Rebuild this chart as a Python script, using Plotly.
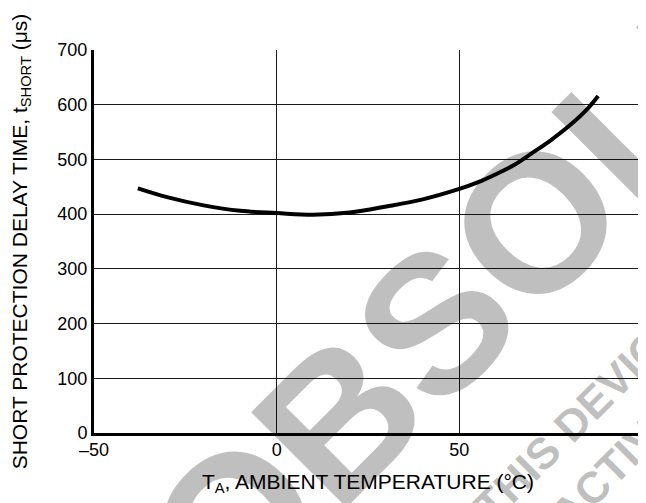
import plotly.graph_objects as go

# ---- data ----
temperature_c = [-38, -30, -20, -10, 0, 10, 20, 30, 40, 50, 55, 60, 65, 70, 75, 80, 85, 88]
delay_us = [447, 431, 416, 406, 402, 399, 403, 414, 427, 446, 458, 473, 490, 512, 535, 561, 592, 616]

x_tick_vals = [-50, 0, 50, 100]
x_tick_text = ["\u201350", "0", "50", "100"]
y_tick_vals = [0, 100, 200, 300, 400, 500, 600, 700]
y_tick_text = ["0", "100", "200", "300", "400", "500", "600", "700"]

x_title = "T<sub>A</sub>, AMBIENT TEMPERATURE (°C)"
y_title = "SHORT PROTECTION DELAY TIME, t<sub>SHORT</sub> (μs)"

watermark_big = "OBSOLETE"
watermark_line1 = "THIS DEVICE IS"
watermark_line2 = "NOT ACTIVE"

FONT = "Liberation Sans, Arial, Helvetica, sans-serif"

fig = go.Figure()
fig.add_trace(go.Scatter(
    x=temperature_c, y=delay_us, mode="lines",
    line=dict(color="black", width=4, shape="spline", smoothing=1.0),
    hoverinfo="skip", showlegend=False,
))

# watermark: nearly-black translucent so it reads as light grey on white
wm_color = "rgba(0,0,0,0.25)"
wm_common = dict(xref="paper", yref="paper", showarrow=False, textangle=-45,
                 xanchor="center", yanchor="middle")
fig.add_annotation(text=watermark_big, x=0.856, y=0.619,
                   font=dict(family=FONT, size=196, color=wm_color, weight="bold"), **wm_common)
fig.add_annotation(text=watermark_line1, x=0.9215, y=0.094,
                   font=dict(family=FONT, size=44, color=wm_color, weight="bold"), **wm_common)
fig.add_annotation(text=watermark_line2, x=0.885, y=-0.175,
                   font=dict(family=FONT, size=44, color=wm_color, weight="bold"), **wm_common)

fig.update_layout(
    width=646, height=503, autosize=False,
    margin=dict(l=86, r=12, t=42, b=78),
    paper_bgcolor="white", plot_bgcolor="white",
    font=dict(family=FONT, size=18, color="black"),
    showlegend=False,
)
fig.update_xaxes(
    range=[-50, 100], tickvals=x_tick_vals, ticktext=x_tick_text,
    showgrid=True, gridcolor="#1a1a1a", gridwidth=1,
    zeroline=False, showline=True, linecolor="black", linewidth=3,
    ticks="", tickfont=dict(size=18), ticklabelstandoff=-2,
    title=dict(text=x_title, font=dict(size=21), standoff=16),
    automargin=False,
)
fig.update_yaxes(
    range=[0, 700], tickvals=y_tick_vals, ticktext=y_tick_text,
    showgrid=True, gridcolor="#1a1a1a", gridwidth=1,
    zeroline=False, showline=True, linecolor="black", linewidth=3,
    ticks="", tickfont=dict(size=18),
    title=dict(text=y_title, font=dict(size=21), standoff=42),
    automargin=False,
)

fig.write_html("out.html")
